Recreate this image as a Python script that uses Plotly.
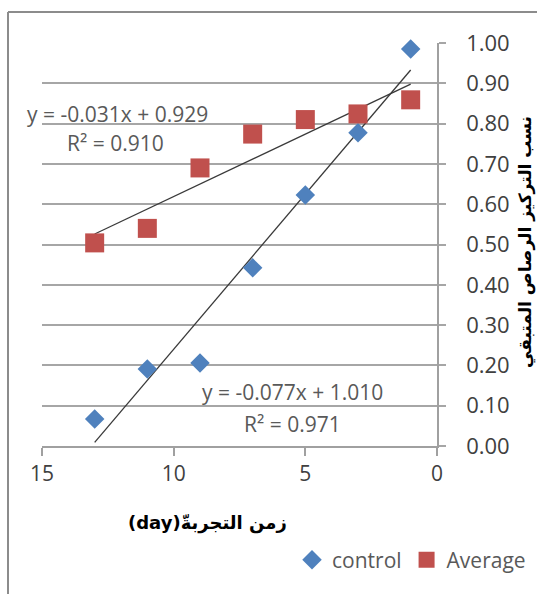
import plotly.graph_objects as go

# ---- data ----
days = [1, 3, 5, 7, 9, 11, 13]
control = [0.985, 0.777, 0.623, 0.442, 0.206, 0.191, 0.067]
average = [0.859, 0.824, 0.810, 0.774, 0.690, 0.540, 0.504]

# trend line coefficients (as printed on chart)
control_fit = [-0.077, 1.010]
average_fit = [-0.031, 0.929]

x_ticks = [15, 10, 5, 0]
y_ticks = [0.0, 0.1, 0.2, 0.3, 0.4, 0.5, 0.6, 0.7, 0.8, 0.9, 1.0]
y_tick_text = ["%.2f" % v for v in y_ticks]

x_title = "(day)زمن التجربةّ"
y_title = "نسب التركيز الرصاص المتبقي"
eq_control = ["y = -0.077x + 1.010", "R² = 0.971"]
eq_average = ["y = -0.031x + 0.929", "R² = 0.910"]

BLUE = "#4F81BD"
RED = "#C0504D"
TXT = "#404040"
NUMFONT = "Open Sans"

fig = go.Figure()

xfit = [min(days), max(days)]
for fit in (control_fit, average_fit):
    fig.add_trace(go.Scatter(
        x=xfit, y=[fit[0] * v + fit[1] for v in xfit], mode="lines",
        line=dict(color="#3a3a3a", width=1.3), showlegend=False,
        hoverinfo="skip"))

fig.add_trace(go.Scatter(
    x=days, y=control, mode="markers", name="control",
    marker=dict(symbol="diamond", size=15, color=BLUE), cliponaxis=False))
fig.add_trace(go.Scatter(
    x=days, y=average, mode="markers", name="Average",
    marker=dict(symbol="square", size=19, color=RED), cliponaxis=False))

L, R, T, B = 42, 100, 43, 148
W, H = 537, 594
pw, ph = W - L - R, H - T - B


def px(x):
    return (x - L) / pw


def py(y):
    return (H - B - y) / ph


fig.update_layout(
    width=W, height=H,
    margin=dict(l=L, r=R, t=T, b=B, autoexpand=False),
    paper_bgcolor="white", plot_bgcolor="white",
    showlegend=True,
    legend=dict(orientation="h", x=px(292), y=py(560), xanchor="left",
                yanchor="middle", font=dict(family=NUMFONT, size=21, color="#595959"),
                bgcolor="rgba(0,0,0,0)", itemwidth=30, tracegroupgap=0),
    xaxis=dict(range=[15, 0], tickvals=x_ticks, showgrid=False, zeroline=False,
               showline=True, linecolor="#a0a0a0", linewidth=1.5,
               ticks="outside", ticklen=8, tickcolor="#a0a0a0", tickwidth=1.5,
               automargin=False,
               tickfont=dict(family=NUMFONT, size=21, color=TXT)),
    yaxis=dict(range=[0, 1], side="right", tickvals=y_ticks, ticktext=y_tick_text,
               showgrid=True, gridcolor="#a6a6a6", gridwidth=1.5, zeroline=False,
               showline=True, linecolor="#a0a0a0", linewidth=1.5,
               ticks="outside", ticklen=7, tickcolor="#a6a6a6", tickwidth=1.5,
               ticklabelstandoff=16, automargin=False,
               tickfont=dict(family=NUMFONT, size=22, color=TXT)),
    font=dict(family=NUMFONT),
)

ann = []
ann.append(dict(text=eq_average[0], x=px(117), y=py(114)))
ann.append(dict(text=eq_average[1], x=px(115), y=py(143)))
ann.append(dict(text=eq_control[0], x=px(292), y=py(392)))
ann.append(dict(text=eq_control[1], x=px(292), y=py(424)))
for a in ann:
    a.update(xref="paper", yref="paper", showarrow=False, xanchor="center",
             yanchor="middle", font=dict(family=NUMFONT, size=21, color="#595959"))
    fig.add_annotation(**a)

fig.add_annotation(text="<b>" + x_title + "</b>", x=px(207), y=py(523), xref="paper",
                   yref="paper", showarrow=False, xanchor="center", yanchor="middle",
                   font=dict(family="DejaVu Sans", size=18, color="black"))
fig.add_annotation(text="<b>" + y_title + "</b>", x=px(525), y=py(242), xref="paper",
                   yref="paper", showarrow=False, xanchor="center", yanchor="middle",
                   textangle=-90,
                   font=dict(family="DejaVu Sans", size=17, color="black"))

# outer chart frame (left and top edges visible)
fig.add_shape(type="line", xref="paper", yref="paper", x0=px(8), x1=px(8),
              y0=py(12), y1=py(600), line=dict(color="#8c8c8c", width=2))
fig.add_shape(type="line", xref="paper", yref="paper", x0=px(8), x1=px(545),
              y0=py(12), y1=py(12), line=dict(color="#8c8c8c", width=2))

fig.write_html("out.html", config={"displayModeBar": False},
               post_script="document.body.style.margin='0';"
                           "document.body.style.overflow='hidden';")
